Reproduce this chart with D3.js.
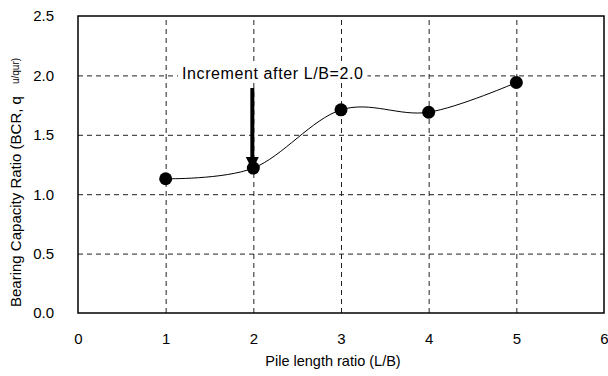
<!DOCTYPE html>
<html>
<head>
<meta charset="utf-8">
<script src="https://cdn.jsdelivr.net/npm/d3@7"></script>
<style>
  html, body { margin: 0; padding: 0; background: #fff; }
  svg { display: block; font-family: "Liberation Sans", Arial, sans-serif; }
</style>
</head>
<body>
<svg id="chart" width="608" height="376"></svg>
<script>
// Pile length ratio vs bearing capacity ratio
const lengthRatio = [1, 2, 3, 4, 5];
const bcrValues = [1.13, 1.22, 1.71, 1.69, 1.94];
const xTicks = [0, 1, 2, 3, 4, 5, 6];
const yTicks = [0.0, 0.5, 1.0, 1.5, 2.0, 2.5];
const annotation = { text: "Increment after L/B=2.0", x: 2, y: 1.22 };

const svg = d3.select("#chart");
const margin = { left: 78, right: 4, top: 16, bottom: 63 };
const W = 608, H = 376;
const FONT = "Liberation Sans, Arial, sans-serif";

const x = d3.scaleLinear().domain([0, 6]).range([margin.left, W - margin.right]);
const y = d3.scaleLinear().domain([0, 2.5]).range([H - margin.bottom, margin.top]);

// dashed grid
const grid = svg.append("g").attr("stroke", "#222").attr("stroke-width", 1)
  .attr("stroke-dasharray", "5,4").attr("fill", "none");
grid.selectAll("line.h").data(yTicks.filter(d => d > 0 && d < 2.5)).join("line")
  .attr("x1", x(0)).attr("x2", x(6))
  .attr("y1", d => y(d) + 0.5).attr("y2", d => y(d) + 0.5);
grid.selectAll("line.v").data(xTicks.filter(d => d > 0 && d < 6)).join("line")
  .attr("y1", y(0)).attr("y2", y(2.5))
  .attr("x1", d => x(d) + 0.5).attr("x2", d => x(d) + 0.5);

// plot frame
svg.append("rect")
  .attr("x", x(0)).attr("y", y(2.5))
  .attr("width", x(6) - x(0)).attr("height", y(0) - y(2.5))
  .attr("fill", "none").attr("stroke", "#000").attr("stroke-width", 1.5);

// axes (labels only)
const xAxis = svg.append("g").attr("transform", `translate(0,${y(0) + 17})`)
  .call(d3.axisBottom(x).tickValues(xTicks).tickFormat(d3.format("d")).tickSize(0));
xAxis.select(".domain").remove();
xAxis.selectAll("text").attr("font-size", 15).attr("fill", "#000").attr("font-family", FONT);

const yAxis = svg.append("g").attr("transform", `translate(${x(0) - 21},0)`)
  .call(d3.axisLeft(y).tickValues(yTicks).tickFormat(d3.format(".1f")).tickSize(0));
yAxis.select(".domain").remove();
yAxis.selectAll("text").attr("font-size", 15).attr("fill", "#000").attr("font-family", FONT);

// axis titles
svg.append("text")
  .attr("x", 333).attr("y", 366)
  .attr("text-anchor", "middle").attr("font-size", 14.5)
  .text("Pile length ratio (L/B)");

const yt = svg.append("text")
  .attr("transform", `translate(21,307) rotate(-90)`)
  .attr("text-anchor", "start").attr("font-size", 15);
yt.append("tspan").text("Bearing Capacity Ratio (BCR, q");
yt.append("tspan").attr("dx", 12).attr("font-size", 10).attr("dy", -2).text("u/q");
yt.append("tspan").attr("font-size", 10).text("ur");
yt.append("tspan").attr("font-size", 10).text(")");

// smoothed line
const line = d3.line().x((d, i) => x(lengthRatio[i])).y(d => y(d))
  .curve(d3.curveCardinal.tension(0));
svg.append("path").datum(bcrValues)
  .attr("d", line).attr("fill", "none").attr("stroke", "#000").attr("stroke-width", 1);

svg.selectAll("circle.pt").data(bcrValues).join("circle")
  .attr("cx", (d, i) => x(lengthRatio[i])).attr("cy", d => y(d))
  .attr("r", 6.5).attr("fill", "#000");

// annotation with white backing, then arrow
const noteG = svg.append("g");
const backing = noteG.append("rect").attr("fill", "#fff");
const lbl = noteG.append("text")
  .attr("x", 182).attr("y", 79)
  .attr("font-size", 16).attr("letter-spacing", 0.6)
  .text(annotation.text);
const bb = lbl.node().getBBox();
backing.attr("x", bb.x - 4).attr("y", bb.y).attr("width", bb.width + 8).attr("height", bb.height);

const ax = x(annotation.x) - 1;
const tipY = y(annotation.y) + 2;
svg.append("line")
  .attr("x1", ax).attr("x2", ax)
  .attr("y1", 88).attr("y2", tipY - 10)
  .attr("stroke", "#000").attr("stroke-width", 4);
svg.append("path")
  .attr("d", `M${ax - 6.5},${tipY - 13} L${ax},${tipY} L${ax + 6.5},${tipY - 13} Z`)
  .attr("fill", "#000");
</script>
</body>
</html>
